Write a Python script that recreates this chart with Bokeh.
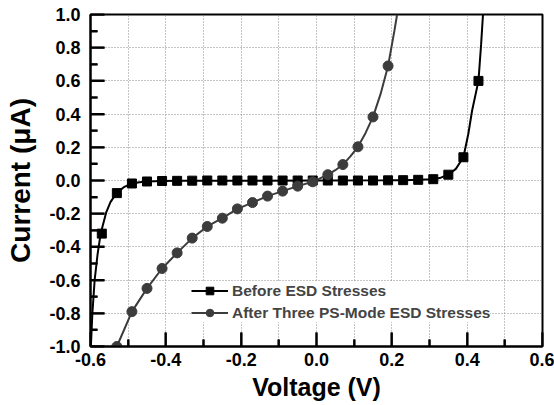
from bokeh.plotting import figure
from bokeh.models import (FixedTicker, PrintfTickFormatter, Range1d, Legend, LegendItem,
                          ColumnDataSource)
from bokeh.embed import file_html
from bokeh.resources import INLINE

# ---- data ----
before_x = [-0.57, -0.53, -0.49, -0.45, -0.41, -0.37, -0.33, -0.29, -0.25, -0.21, -0.17,
            -0.13, -0.09, -0.05, -0.01, 0.03, 0.07, 0.11, 0.15, 0.19, 0.23, 0.27, 0.31,
            0.35, 0.39, 0.43]
before_y = [-0.32, -0.076, -0.018, -0.006, -0.003, -0.002, -0.001, 0.0, 0.0, 0.0, 0.0,
            0.0, 0.0, 0.0, 0.0, 0.0, 0.0, 0.0, 0.0, 0.001, 0.002, 0.004, 0.008,
            0.035, 0.14, 0.60]
# drawn curve through "before" points
before_line_x = [-0.599, -0.595, -0.589, -0.581, -0.573, -0.558, -0.547, -0.531, -0.51,
                 -0.49, -0.47, -0.45, -0.41, -0.37, 0.19, 0.23, 0.27, 0.31, 0.33, 0.35,
                 0.37, 0.39, 0.403, 0.413, 0.43, 0.437, 0.442]
before_line_y = [-1.0, -0.80, -0.60, -0.44, -0.32, -0.19, -0.13, -0.076, -0.038,
                 -0.018, -0.010, -0.006, -0.003, -0.002, 0.001, 0.002, 0.004, 0.008, 0.017,
                 0.035, 0.07, 0.14, 0.28, 0.42, 0.60, 0.82, 1.0]

after_x = [-0.53, -0.49, -0.45, -0.41, -0.37, -0.33, -0.29, -0.25, -0.21, -0.17, -0.13,
           -0.09, -0.05, -0.01, 0.03, 0.07, 0.11, 0.15, 0.19]
after_y = [-1.0, -0.79, -0.65, -0.53, -0.436, -0.347, -0.277, -0.227, -0.171, -0.133,
           -0.094, -0.064, -0.034, -0.008, 0.035, 0.096, 0.203, 0.383, 0.69]
after_line_x = [-0.53, -0.49, -0.45, -0.41, -0.37, -0.33, -0.29, -0.25, -0.21, -0.17,
                -0.13, -0.09, -0.05, -0.01, 0.03, 0.05, 0.07, 0.09, 0.11, 0.13, 0.15,
                0.17, 0.19, 0.207, 0.214]
after_line_y = [-1.0, -0.79, -0.65, -0.53, -0.436, -0.347, -0.277, -0.227, -0.171,
                -0.133, -0.094, -0.064, -0.034, -0.008, 0.035, 0.062, 0.096, 0.145,
                0.203, 0.285, 0.383, 0.52, 0.69, 0.904, 1.0]

x_ticks = [-0.6, -0.4, -0.2, 0.0, 0.2, 0.4, 0.6]
x_minor = [-0.5, -0.3, -0.1, 0.1, 0.3, 0.5]
y_ticks = [-1.0, -0.8, -0.6, -0.4, -0.2, 0.0, 0.2, 0.4, 0.6, 0.8, 1.0]
y_minor = [-0.9, -0.7, -0.5, -0.3, -0.1, 0.1, 0.3, 0.5, 0.7, 0.9]

labels = ["Before ESD Stresses", "After Three PS-Mode ESD Stresses"]

FONT = "Liberation Sans"
X0, X1, Y0, Y1 = -0.6, 0.6, -1.0, 1.0
FRAME_W, FRAME_H = 452, 332

p = figure(width=554, height=405, output_backend="svg", toolbar_location=None,
           x_range=Range1d(X0, X1), y_range=Range1d(Y0, Y1),
           min_border_left=90, min_border_right=12, min_border_top=14, min_border_bottom=59)
p.outline_line_color = "black"
p.outline_line_width = 2

for ax in (p.xaxis[0], p.yaxis[0]):
    ax.axis_line_width = 2
    ax.axis_line_color = "black"
    ax.major_tick_in = 14
    ax.major_tick_out = 0
    ax.minor_tick_in = 7
    ax.minor_tick_out = 0
    ax.major_tick_line_color = "black"
    ax.minor_tick_line_color = "black"
    ax.major_tick_line_width = 2
    ax.minor_tick_line_width = 2
    ax.major_label_text_font = FONT
    ax.major_label_text_font_style = "bold"
    ax.major_label_text_font_size = "18px"
    ax.major_label_text_color = "black"
    ax.axis_label_text_font = FONT
    ax.axis_label_text_font_style = "bold"
    ax.axis_label_text_color = "black"
    ax.formatter = PrintfTickFormatter(format="%.1f")

p.xaxis[0].ticker = FixedTicker(ticks=x_ticks, minor_ticks=x_minor)
p.yaxis[0].ticker = FixedTicker(ticks=y_ticks, minor_ticks=y_minor)
p.xaxis[0].axis_label = "Voltage (V)"
p.yaxis[0].axis_label = "Current (\u03bcA)"
p.xaxis[0].axis_label_text_font_size = "25px"
p.yaxis[0].axis_label_text_font_size = "28px"
p.xaxis[0].major_label_standoff = 6
p.yaxis[0].major_label_standoff = 10
p.xaxis[0].axis_label_standoff = 4
p.yaxis[0].axis_label_standoff = 10

GRID = "#8a8a8a"
p.xgrid.grid_line_color = GRID
p.xgrid.grid_line_dash = "1 2"
p.xgrid.minor_grid_line_color = GRID
p.xgrid.minor_grid_line_dash = "1 2"
p.ygrid.grid_line_color = GRID
p.ygrid.grid_line_dash = "1 2"

# inward tick marks drawn as glyphs (lengths in px converted to data units)
dxM = 14 * (X1 - X0) / FRAME_W
dxm = 7 * (X1 - X0) / FRAME_W
dyM = 14 * (Y1 - Y0) / FRAME_H
dym = 7 * (Y1 - Y0) / FRAME_H
ytick_src = ColumnDataSource(dict(
    x0=[X0] * (len(y_ticks) + len(y_minor)),
    x1=[X0 + dxM] * len(y_ticks) + [X0 + dxm] * len(y_minor),
    yy=list(y_ticks) + list(y_minor)))
xtick_src = ColumnDataSource(dict(
    y0=[Y0] * (len(x_ticks) + len(x_minor)),
    y1=[Y0 + dyM] * len(x_ticks) + [Y0 + dym] * len(x_minor),
    xx=list(x_ticks) + list(x_minor)))
p.segment(x0="x0", y0="yy", x1="x1", y1="yy", source=ytick_src, line_color="black", line_width=2)
p.segment(x0="xx", y0="y0", x1="xx", y1="y1", source=xtick_src, line_color="black", line_width=2)

l1 = p.line(before_line_x, before_line_y, line_color="black", line_width=2)
s1 = p.scatter(before_x, before_y, marker="square", size=9, fill_color="black", line_color="black")
l2 = p.line(after_line_x, after_line_y, line_color="#3c3c3c", line_width=2)
s2 = p.scatter(after_x, after_y, marker="circle", size=10, fill_color="#3c3c3c", line_color="#3c3c3c")

legend = Legend(items=[LegendItem(label=labels[0], renderers=[l1, s1]),
                       LegendItem(label=labels[1], renderers=[l2, s2])],
                location=(101, 24), border_line_color=None,
                background_fill_color="white", background_fill_alpha=1.0,
                padding=3, spacing=3, margin=0, glyph_width=37, glyph_height=19,
                label_standoff=4, label_text_font=FONT, label_text_font_style="bold",
                label_text_font_size="15.5px", label_height=19)
p.add_layout(legend, "center")

open("out.html", "w").write(file_html(p, INLINE))
